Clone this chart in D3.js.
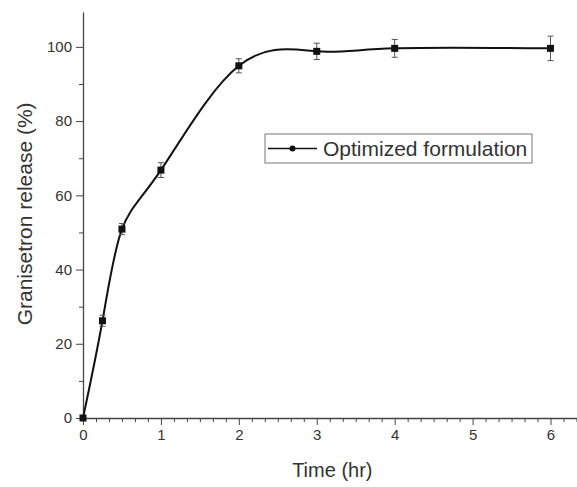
<!DOCTYPE html>
<html>
<head>
<meta charset="utf-8">
<script src="https://cdn.jsdelivr.net/npm/d3@7"></script>
<style>
  body { margin: 0; background: #fff; }
  text { font-family: "Liberation Sans", Arial, sans-serif; fill: #333; }
</style>
</head>
<body>
<div id="myChart"></div>
<script>
// data
const times = [0, 0.25, 0.5, 1, 2, 3, 4, 6];
const release = [0, 26.2, 50.9, 66.8, 94.9, 98.8, 99.6, 99.6];
const errors = [0, 1.5, 1.5, 2, 1.9, 2.2, 2.4, 3.3];
const xTicks = [0, 1, 2, 3, 4, 5, 6];
const yTicks = [0, 20, 40, 60, 80, 100];
const seriesName = "Optimized formulation";

const data = times.map((t, i) => ({t: t, v: release[i], e: errors[i]}));

const W = 577, H = 487;
const margin = {top: 12, right: 0, bottom: 69, left: 83};
const width = W - margin.left - margin.right,
      height = H - margin.top - margin.bottom;

const svg = d3.select("#myChart")
  .append("svg")
    .attr("width", W)
    .attr("height", H)
  .append("g")
    .attr("transform", `translate(${margin.left}, ${margin.top})`);

const x = d3.scaleLinear().domain([0, 6.34]).range([0, width]);
const y = d3.scaleLinear().domain([0, 109.4]).range([height, 0]);

// minor ticks
const xMinor = d3.range(0, 6.34, 1/6).filter(v => Math.abs(v - Math.round(v)) > 1e-6);
const yMinor = d3.range(10, 110, 20);

svg.append("g")
  .attr("transform", `translate(0, ${height})`)
  .call(d3.axisBottom(x).tickValues(xMinor).tickSize(4).tickFormat(""))
  .call(g => g.select(".domain").remove())
  .selectAll("line").attr("stroke", "#444");

svg.append("g")
  .call(d3.axisLeft(y).tickValues(yMinor).tickSize(4).tickFormat(""))
  .call(g => g.select(".domain").remove())
  .selectAll("line").attr("stroke", "#444");

// X axis
const xAxis = svg.append("g")
  .attr("transform", `translate(0, ${height})`)
  .call(d3.axisBottom(x).tickValues(xTicks).tickSize(7).tickSizeOuter(0).tickPadding(4).tickFormat(d3.format("d")));
xAxis.select(".domain").attr("stroke", "#444").attr("stroke-width", 1.3);
xAxis.selectAll("line").attr("stroke", "#444");
xAxis.selectAll("text").style("font-size", "15px").attr("fill", "#333");

// Y axis
const yAxis = svg.append("g")
  .call(d3.axisLeft(y).tickValues(yTicks).tickSize(7).tickSizeOuter(0).tickPadding(4));
yAxis.select(".domain").attr("stroke", "#444").attr("stroke-width", 1.3);
yAxis.selectAll("line").attr("stroke", "#444");
yAxis.selectAll("text").style("font-size", "15px").attr("fill", "#333");

// axis titles
svg.append("text")
  .attr("text-anchor", "middle")
  .attr("x", x(3.2))
  .attr("y", height + 59)
  .style("font-size", "20px")
  .text("Time (hr)");

svg.append("text")
  .attr("text-anchor", "middle")
  .attr("transform", `translate(-51, ${y(55)}) rotate(-90)`)
  .style("font-size", "21px")
  .text("Granisetron release (%)");

// curve
const line = d3.line()
  .x(d => x(d.t))
  .y(d => y(d.v))
  .curve(d3.curveNatural);

svg.append("path")
  .datum(data)
  .attr("fill", "none")
  .attr("stroke", "#111")
  .attr("stroke-width", 2)
  .attr("d", line);

// error bars
const eb = svg.selectAll(".err")
  .data(data.filter(d => d.e > 0))
  .join("g")
    .attr("class", "err")
    .attr("stroke", "#555")
    .attr("stroke-width", 1);
eb.append("line")
  .attr("x1", d => x(d.t)).attr("x2", d => x(d.t))
  .attr("y1", d => y(d.v - d.e)).attr("y2", d => y(d.v + d.e));
eb.append("line")
  .attr("x1", d => x(d.t) - 3).attr("x2", d => x(d.t) + 3)
  .attr("y1", d => y(d.v + d.e)).attr("y2", d => y(d.v + d.e));
eb.append("line")
  .attr("x1", d => x(d.t) - 3).attr("x2", d => x(d.t) + 3)
  .attr("y1", d => y(d.v - d.e)).attr("y2", d => y(d.v - d.e));

// markers
const size = 7;
svg.selectAll(".pt")
  .data(data)
  .join("rect")
    .attr("class", "pt")
    .attr("x", d => x(d.t) - size/2)
    .attr("y", d => y(d.v) - size/2)
    .attr("width", size)
    .attr("height", size)
    .attr("fill", "#111");

// legend
const legend = svg.append("g")
  .attr("transform", `translate(${265 - margin.left}, ${134 - margin.top})`);
legend.append("rect")
  .attr("width", 267).attr("height", 29)
  .attr("fill", "#fff")
  .attr("stroke", "#777")
  .attr("stroke-width", 1);
legend.append("line")
  .attr("x1", 3).attr("x2", 52).attr("y1", 14.5).attr("y2", 14.5)
  .attr("stroke", "#111").attr("stroke-width", 1.6);
legend.append("circle")
  .attr("cx", 27.5).attr("cy", 14.5).attr("r", 3)
  .attr("fill", "#111");
legend.append("text")
  .attr("x", 58).attr("y", 22)
  .style("font-size", "21px")
  .text(seriesName);
</script>
</body>
</html>
